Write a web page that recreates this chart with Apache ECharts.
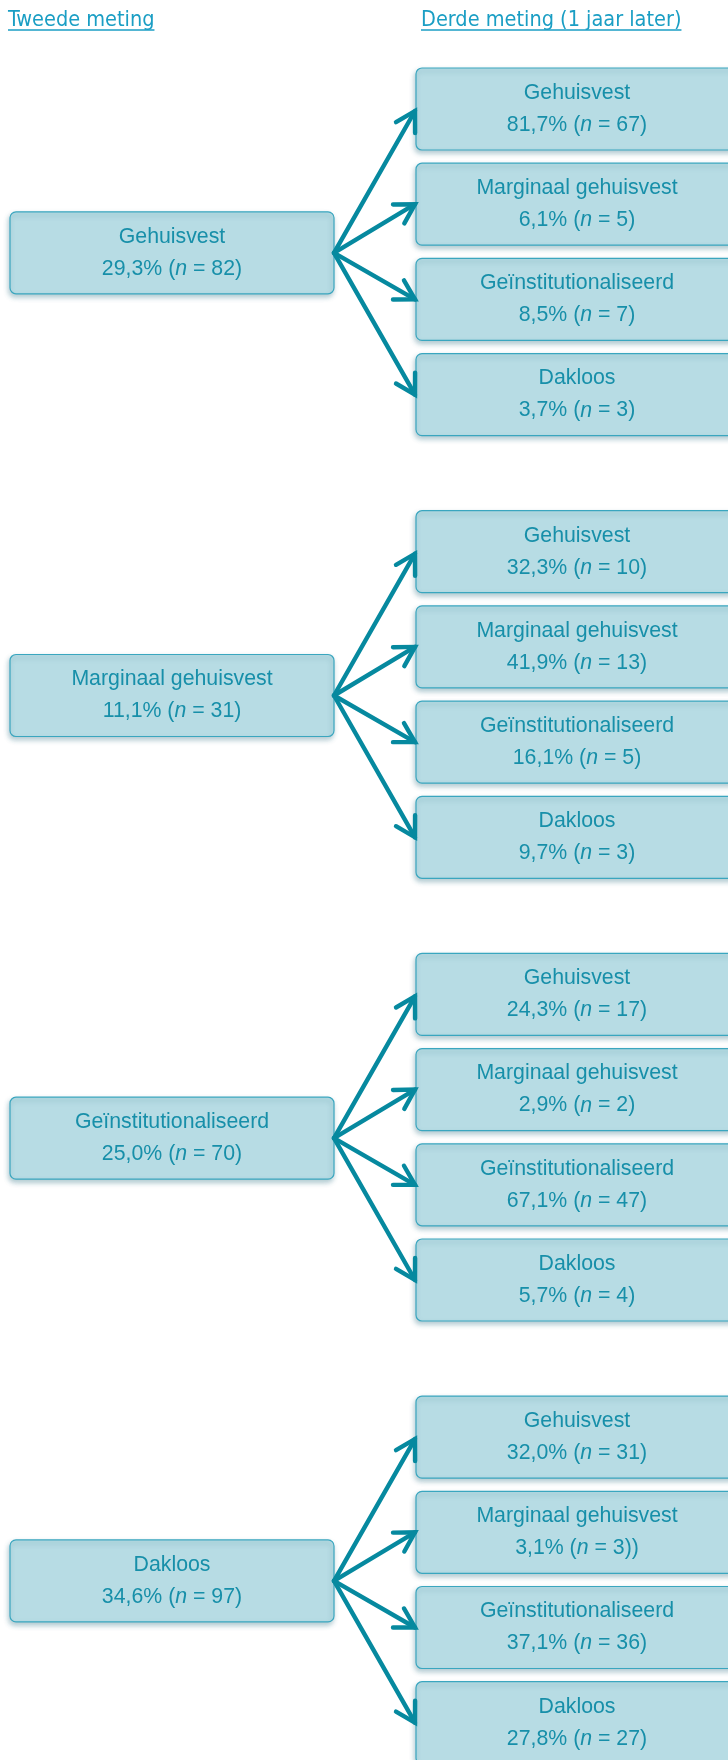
<!DOCTYPE html>
<html>
<head>
<meta charset="utf-8">
<script src="https://cdn.jsdelivr.net/npm/echarts@6/dist/echarts.min.js"></script>
<style>
  html, body { margin: 0; padding: 0; background: #ffffff; }
  #chart { width: 728px; height: 1760px; }
</style>
</head>
<body>
<div id="chart"></div>
<script>
// ---------------- DATA ----------------
const headers = ['Tweede meting', 'Derde meting (1 jaar later)'];
const categories = ['Gehuisvest', 'Marginaal gehuisvest', 'Geïnstitutionaliseerd', 'Dakloos'];
// second measurement (left column)
const fromPct = [29.3, 11.1, 25.0, 34.6];
const fromN = [82, 31, 70, 97];
// third measurement (right column), rows per origin group
const toPct = [
  [81.7, 6.1, 8.5, 3.7],
  [32.3, 41.9, 16.1, 9.7],
  [24.3, 2.9, 67.1, 5.7],
  [32.0, 3.1, 37.1, 27.8]
];
const toN = [
  [67, 5, 7, 3],
  [10, 13, 5, 3],
  [17, 2, 47, 4],
  [31, 3, 36, 27]
];
// closing text as printed in the source (one label has a double bracket)
const toClose = [
  [')', ')', ')', ')'],
  [')', ')', ')', ')'],
  [')', ')', ')', ')'],
  [')', '))', ')', ')']
];

// ---------------- LAYOUT / STYLE ----------------
const W = 728, H = 1760;
const LEFT_X0 = 10, LEFT_X1 = 334;
const RIGHT_X0 = 416, RIGHT_X1 = 738;
const FIRST_TOP = 68, ROW_STEP = 95.2, GROUP_STEP = 442.7, BOX_H = 82;
const FILL = '#b7dce4', STROKE = '#3aa6bf', TEXT = '#178fa9', ARROW = '#06899f', HEAD = '#1a9ec4';
const BOX_FONT = '"Liberation Sans", Arial, sans-serif';
const HEAD_FONT = '"DejaVu Sans Condensed", "DejaVu Sans", sans-serif';

function fmt(v) { return v.toFixed(1).replace('.', ','); }
function rowCenter(g, r) { return FIRST_TOP + g * GROUP_STEP + r * ROW_STEP + BOX_H / 2; }
function leftCenter(g) { return (rowCenter(g, 0) + rowCenter(g, 3)) / 2 + 1; }

const boxData = [];
const arrowData = [];
categories.forEach((c, g) => {
  boxData.push({ value: [(LEFT_X0 + LEFT_X1) / 2, leftCenter(g)], col: 0, g: g, r: -1 });
  categories.forEach((c2, r) => {
    boxData.push({ value: [(RIGHT_X0 + RIGHT_X1) / 2, rowCenter(g, r)], col: 1, g: g, r: r });
    arrowData.push({ value: [LEFT_X1, leftCenter(g), RIGHT_X0 - 1, rowCenter(g, r) + (r === 0 ? 2 : 0)] });
  });
});

function boxText(item) {
  let name, pct, n, close;
  if (item.col === 0) {
    name = categories[item.g]; pct = fromPct[item.g]; n = fromN[item.g]; close = ')';
  } else {
    name = categories[item.r]; pct = toPct[item.g][item.r]; n = toN[item.g][item.r]; close = toClose[item.g][item.r];
  }
  return '{a|' + name + '}\n{a|' + fmt(pct) + '% (}{i|n}{a| = ' + n + close + '}';
}

const chart = echarts.init(document.getElementById('chart'), null, { renderer: 'canvas' });

const mctx = document.createElement('canvas').getContext('2d');
const HEAD_SIZE = 21.5;
mctx.font = HEAD_SIZE + 'px ' + HEAD_FONT;
const headerX = [8, 421];
const headerData = headers.map((h, i) => ({ value: [headerX[i], 20.5], w: mctx.measureText(h).width, text: h }));

const option = {
  animation: false,
  backgroundColor: '#ffffff',
  grid: { left: 0, right: 0, top: 0, bottom: 0 },
  xAxis: { type: 'value', min: 0, max: W, show: false },
  yAxis: { type: 'value', min: 0, max: H, inverse: true, show: false },
  series: [
    {
      type: 'custom',
      name: 'arrows',
      data: arrowData,
      silent: true,
      renderItem: function (params, api) {
        const p0 = api.coord([api.value(0), api.value(1)]);
        const p1 = api.coord([api.value(2), api.value(3)]);
        const ang = Math.atan2(p1[1] - p0[1], p1[0] - p0[0]);
        const L = 22, half = Math.PI / 6;
        const a1 = [p1[0] - L * Math.cos(ang - half), p1[1] - L * Math.sin(ang - half)];
        const a2 = [p1[0] - L * Math.cos(ang + half), p1[1] - L * Math.sin(ang + half)];
        const st = { stroke: ARROW, lineWidth: 4.4, fill: null, lineCap: 'round', lineJoin: 'miter' };
        return {
          type: 'group',
          children: [
            { type: 'line', shape: { x1: p0[0], y1: p0[1], x2: p1[0], y2: p1[1] }, style: st },
            { type: 'polyline', shape: { points: [a1, p1, a2] }, style: st }
          ]
        };
      },
      z: 3
    },
    {
      type: 'custom',
      name: 'boxes',
      data: boxData,
      silent: true,
      renderItem: function (params, api) {
        const item = boxData[params.dataIndex];
        const c = api.coord([api.value(0), api.value(1)]);
        const x0 = item.col === 0 ? LEFT_X0 : RIGHT_X0;
        const x1 = item.col === 0 ? LEFT_X1 : RIGHT_X1;
        const tl = api.coord([x0, api.value(1) - BOX_H / 2]);
        const br = api.coord([x1, api.value(1) + BOX_H / 2]);
        return {
          type: 'group',
          children: [
            {
              type: 'rect',
              shape: { x: tl[0], y: tl[1], width: br[0] - tl[0], height: br[1] - tl[1], r: 6 },
              style: {
                fill: FILL, stroke: STROKE, lineWidth: 1.2,
                shadowBlur: 5, shadowOffsetX: -1, shadowOffsetY: 3, shadowColor: 'rgba(40,110,130,0.35)'
              }
            },
            {
              type: 'text',
              x: c[0], y: c[1],
              style: {
                text: boxText(item),
                fill: TEXT,
                align: 'center', verticalAlign: 'middle',
                rich: {
                  a: { fontFamily: BOX_FONT, fontSize: 21.3, fill: TEXT, lineHeight: 32 },
                  i: { fontFamily: BOX_FONT, fontSize: 21.3, fill: TEXT, lineHeight: 32, fontStyle: 'italic' }
                }
              }
            }
          ]
        };
      },
      z: 2
    },
    {
      type: 'custom',
      name: 'headers',
      data: headerData,
      silent: true,
      renderItem: function (params, api) {
        const item = headerData[params.dataIndex];
        const p = api.coord([api.value(0), api.value(1)]);
        return {
          type: 'group',
          children: [
            {
              type: 'text', x: p[0], y: p[1],
              style: { text: item.text, fontFamily: HEAD_FONT, fontSize: HEAD_SIZE, fill: HEAD, align: 'left', verticalAlign: 'middle' }
            },
            {
              type: 'line',
              shape: { x1: p[0], y1: p[1] + 9.5, x2: p[0] + item.w, y2: p[1] + 9.5 },
              style: { stroke: HEAD, lineWidth: 1.5 }
            }
          ]
        };
      },
      z: 4
    }
  ]
};
chart.setOption(option);
</script>
</body>
</html>
